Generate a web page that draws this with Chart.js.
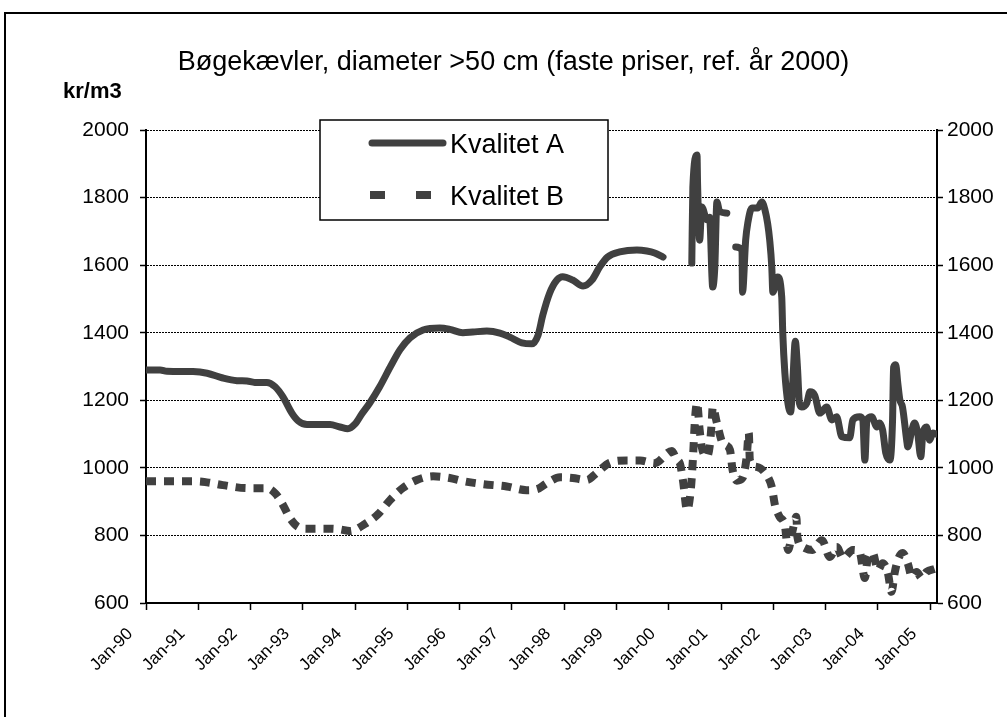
<html>
  <head>
    <script src="https://cdn.jsdelivr.net/npm/chart.js@4.4.0/dist/chart.umd.min.js"></script>
  </head>
  <body style="margin:0;background:#fff">
    <canvas id="chart" width="1007" height="717"></canvas>
    <script>
      const xLabels = ['Jan-90', 'Jan-91', 'Jan-92', 'Jan-93', 'Jan-94', 'Jan-95', 'Jan-96', 'Jan-97',
        'Jan-98', 'Jan-99', 'Jan-00', 'Jan-01', 'Jan-02', 'Jan-03', 'Jan-04', 'Jan-05'];
      const firstYear = 1990;

      // dates as decimal years, null = no price that period
      const datesA = [1990.00, 1990.27, 1990.40, 1990.90, 1991.17, 1991.47, 1991.74, 1991.93, 1992.08, 1992.31,
        1992.47, 1992.62, 1992.79, 1992.91, 1993.08, 1993.52, 1993.71, 1993.86, 1994.00, 1994.13,
        1994.28, 1994.47, 1994.67, 1994.86, 1995.05, 1995.30, 1995.62, 1995.81, 1996.06, 1996.25,
        1996.52, 1996.77, 1996.96, 1997.19, 1997.38, 1997.50, 1997.59, 1997.72, 1997.86, 1997.97,
        1998.16, 1998.36, 1998.53, 1998.68, 1998.83, 1999.06, 1999.39, 1999.58, 1999.73, 1999.89,
        2000.15, 2000.44, 2000.46, 2000.54, 2000.55, 2000.59, 2000.63, 2000.73, 2000.78, 2000.84,
        2000.88, 2000.92, 2000.97, 2001.11, 2001.20, 2001.28, 2001.40, 2001.41, 2001.47, 2001.51,
        2001.59, 2001.70, 2001.78, 2001.84, 2001.89, 2001.93, 2001.97, 2001.99, 2002.06, 2002.08,
        2002.16, 2002.18, 2002.22, 2002.28, 2002.33, 2002.37, 2002.42, 2002.46, 2002.50, 2002.54,
        2002.64, 2002.70, 2002.79, 2002.89, 2003.02, 2003.12, 2003.21, 2003.31, 2003.46, 2003.52,
        2003.65, 2003.71, 2003.75, 2003.79, 2003.88, 2003.98, 2004.03, 2004.09, 2004.15, 2004.23,
        2004.28, 2004.30, 2004.34, 2004.38, 2004.42, 2004.47, 2004.55, 2004.57, 2004.65, 2004.70,
        2004.76, 2004.82, 2004.86, 2004.93, 2004.99, 2005.05, 2005.12];
      const kvalitetA = [1290, 1290, 1286, 1285, 1280, 1266, 1258, 1257, 1253, 1253,
        1240, 1210, 1162, 1139, 1128, 1128, 1121, 1116, 1130, 1160,
        1192, 1240, 1298, 1350, 1385, 1408, 1414, 1410, 1400, 1402,
        1405, 1399, 1387, 1370, 1367, 1393, 1452, 1517, 1556, 1566,
        1556, 1538, 1556, 1595, 1624, 1639, 1645, 1642, 1636, 1624,
        null, 1606, 1831, 1926, 1843, 1674, 1772, 1734, 1742, 1535,
        1594, 1787, 1760, 1754, null, 1654, 1645, 1520, 1674, 1724,
        1769, 1769, 1787, 1763, 1724, 1674, 1594, 1520, 1556, 1565,
        1506, 1399, 1281, 1190, 1165, 1250, 1375, 1300, 1190, 1180,
        1192, 1225, 1215, 1162, 1180, 1142, 1151, 1092, 1089, 1142,
        1151, 1142, 1023, 1142, 1151, 1121, 1133, 1112, 1044, 1023,
        1142, 1298, 1305, 1251, 1201, 1180, 1082, 1062, 1112, 1133,
        1103, 1033, 1103, 1121, 1082, 1103, 1100];

      const datesB = [1990.00, 1990.52, 1990.98, 1991.17, 1991.47, 1991.95, 1992.31, 1992.47, 1992.60, 1992.75,
        1992.91, 1993.08, 1993.46, 1993.71, 1993.90, 1994.19, 1994.44, 1994.67, 1994.91, 1995.18,
        1995.49, 1995.81, 1996.06, 1996.44, 1996.90, 1997.28, 1997.48, 1997.67, 1997.92, 1998.16,
        1998.43, 1998.62, 1998.87, 1999.20, 1999.45, 1999.73, 2000.06, 2000.15, 2000.21, 2000.27,
        2000.35, 2000.42, 2000.46, 2000.50, 2000.54, 2000.59, 2000.63, 2000.73, 2000.78, 2000.82,
        2000.84, 2000.92, 2001.03, 2001.17, 2001.22, 2001.30, 2001.41, 2001.49, 2001.53, 2001.55,
        2001.68, 2001.84, 2001.97, 2002.03, 2002.12, 2002.22, 2002.28, 2002.37, 2002.44, 2002.46,
        2002.56, 2002.75, 2002.93, 2003.08, 2003.21, 2003.33, 2003.52, 2003.65, 2003.75, 2003.80,
        2003.90, 2004.00, 2004.09, 2004.19, 2004.26, 2004.32, 2004.38, 2004.47, 2004.57, 2004.65,
        2004.74, 2004.84, 2004.93, 2005.09];
      const kvalitetB = [960, 960, 960, 957, 949, 940, 940, 925, 896, 852,
        825, 820, 820, 818, 813, 834, 863, 905, 940, 964,
        975, 970, 961, 952, 945, 934, 937, 955, 972, 970,
        964, 985, 1015, 1022, 1022, 1014, 1050, 1023, 1014, 964,
        875, 934, 1023, 1142, 1192, 1112, 1062, 1033, 1062, 1133,
        1180, 1133, 1074, 1053, 994, 962, 970, 1033, 1103, 1023,
        1003, 985, 943, 890, 855, 830, 757, 816, 855, 795,
        766, 757, 786, 736, 766, 733, 757, 751, 674, 727,
        748, 698, 718, 689, 633, 689, 727, 748, 718, 677,
        692, 674, 692, 701];

      const font = 'Liberation Sans, Arial, sans-serif';
      const gray = '#404040';

      function points(dates, values) {
        return dates.map(function(d, i) {
          return { x: d, y: values[i] };
        });
      }

      // outer frame, unit label and the boxed legend
      const extras = {
        id: 'extras',
        beforeDraw(chart) {
          const ctx = chart.ctx;
          ctx.save();
          ctx.fillStyle = '#fff';
          ctx.fillRect(0, 0, chart.width, chart.height);
          ctx.strokeStyle = '#000';
          ctx.lineWidth = 2;
          ctx.strokeRect(5, 13, chart.width + 20, chart.height + 20);
          ctx.restore();
        },
        afterDraw(chart) {
          const ctx = chart.ctx;
          ctx.save();
          ctx.fillStyle = '#000';
          ctx.font = 'bold 22px ' + font;
          ctx.textBaseline = 'middle';
          ctx.fillText('kr/m3', 63, 92);

          ctx.fillStyle = '#fff';
          ctx.fillRect(320, 120, 288, 100);
          ctx.strokeStyle = '#000';
          ctx.lineWidth = 1.5;
          ctx.strokeRect(320, 120, 288, 100);

          const ds = chart.data.datasets;
          ctx.strokeStyle = ds[0].borderColor;
          ctx.lineWidth = ds[0].borderWidth;
          ctx.lineCap = 'round';
          ctx.beginPath();
          ctx.moveTo(372, 143);
          ctx.lineTo(443, 143);
          ctx.stroke();

          ctx.fillStyle = ds[1].borderColor;
          ctx.fillRect(370, 191, 15, 8);
          ctx.fillRect(416, 191, 15, 8);

          ctx.fillStyle = '#000';
          ctx.font = '27px ' + font;
          ctx.fillText(ds[0].label, 450, 146);
          ctx.fillText(ds[1].label, 450, 198);
          ctx.restore();
        }
      };

      new Chart('chart', {
        type: 'line',
        data: {
          datasets: [
            {
              label: 'Kvalitet A',
              data: points(datesA, kvalitetA),
              borderColor: gray,
              borderWidth: 7,
              borderCapStyle: 'round',
              borderJoinStyle: 'round',
              pointRadius: 0,
              cubicInterpolationMode: 'monotone',
              spanGaps: false
            },
            {
              label: 'Kvalitet B',
              data: points(datesB, kvalitetB),
              borderColor: gray,
              borderWidth: 8,
              borderDash: [10, 8],
              pointRadius: 0,
              cubicInterpolationMode: 'monotone'
            }
          ]
        },
        options: {
          responsive: false,
          animation: false,
          layout: { padding: { left: 20, right: 0, top: 0, bottom: 0 } },
          plugins: {
            legend: { display: false },
            tooltip: { enabled: false },
            title: {
              display: true,
              text: 'Bøgekævler, diameter >50 cm (faste priser, ref. år 2000)',
              color: '#000',
              font: { family: font, size: 27, weight: 'normal' },
              padding: { top: 46, bottom: 51.6 }
            }
          },
          scales: {
            x: {
              type: 'linear',
              min: 1990,
              max: 2005.13,
              afterFit: function(s) { s.height = 114; },
              afterBuildTicks: function(s) {
                s.ticks = xLabels.map(function(l, i) {
                  return { value: firstYear + i };
                });
              },
              ticks: {
                autoSkip: false,
                minRotation: 45,
                maxRotation: 45,
                labelOffset: -16,
                padding: 14,
                color: '#000',
                font: { family: font, size: 17 },
                callback: function(v) {
                  return xLabels[Math.round(v) - firstYear];
                }
              },
              grid: { drawOnChartArea: false, tickLength: 7, color: '#000', tickWidth: 1.5 },
              border: { color: '#000', width: 2 }
            },
            y: {
              position: 'left',
              min: 600,
              max: 2000,
              afterFit: function(s) { s.width = 126; },
              ticks: {
                stepSize: 200,
                padding: 11,
                color: '#000',
                font: { family: font, size: 21 },
                callback: function(v) { return String(v); }
              },
              grid: { color: '#000', lineWidth: 1, tickLength: 6, tickWidth: 1.5 },
              border: { color: '#000', width: 2, dash: [2, 1] }
            },
            y2: {
              position: 'right',
              min: 600,
              max: 2000,
              afterFit: function(s) { s.width = 70; },
              ticks: {
                stepSize: 200,
                padding: 4,
                color: '#000',
                font: { family: font, size: 21 },
                callback: function(v) { return String(v); }
              },
              grid: { drawOnChartArea: false, color: '#000', tickLength: 6, tickWidth: 1.5 },
              border: { color: '#000', width: 2 }
            }
          }
        },
        plugins: [extras]
      });
    </script>
  </body>
</html>
